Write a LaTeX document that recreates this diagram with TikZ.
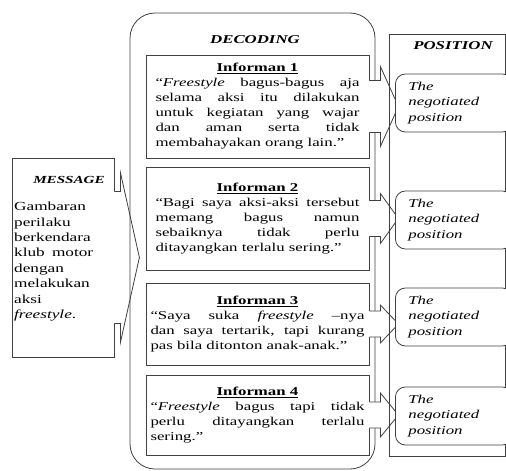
\documentclass[tikz,border=0pt]{standalone}
\usepackage{fontspec}
\setmainfont[FakeStretch=1.4]{Liberation Serif}
\usetikzlibrary{calc}
\setlength{\parindent}{0pt}
\tolerance=10000
\hbadness=10000

\newcommand{\infofont}{\fontsize{12}{15}\selectfont}
\newcommand{\msgfont}{\fontsize{12.3}{15.4}\selectfont}

% callout arrow on the east side of a box: node, shaft half, head half, shaft length, head length
\newcommand{\calloutarrow}[5]{%
	\fill[white] ($(#1.east)+(-0.6,-#2)$) -- ++(#4+0.6,0) -- ++(0,#2-#3) -- ++(#5,#3) -- ++(-#5,#3) -- ++(0,#2-#3) -- ++(-#4-0.6,0) -- cycle;
	\draw[boxline] ($(#1.east)+(0,-#2)$) -- ++(#4,0) -- ++(0,#2-#3) -- ++(#5,#3) -- ++(-#5,#3) -- ++(0,#2-#3) -- ++(-#4,0);
}

\tikzset{
	boxline/.style={draw=black!75,line width=0.8pt},
	headtext/.style={font=\bfseries\itshape\fontsize{12}{14}\selectfont},
	infobox/.style={boxline,fill=white,minimum width=223pt,inner sep=0pt,align=justify,font=\infofont},
	answer/.style={boxline,fill=white,rounded corners=10pt,anchor=west,minimum width=117pt,minimum height=58pt,text width=91pt,inner sep=0pt,align=left,font=\itshape\fontsize{12}{15.5}\selectfont}
}

\begin{document}
\begin{tikzpicture}[x=1pt,y=-1pt]

	\useasboundingbox (0,0) rectangle (506,471);
	\clip (0,0) rectangle (506,471);

	%message box with its arrow
	\node[boxline,fill=white,minimum width=102pt,minimum height=199pt,inner sep=0pt] (msg) at (63,257.5) {};
	\calloutarrow{msg}{66}{85}{6}{19}
	\node[font=\bfseries\itshape\fontsize{10.8}{12}\selectfont] (msgtitle) at (69,180) {MESSAGE};
	\node[anchor=north west,text width=79pt,inner sep=0pt,align=justify,font=\msgfont] (msgtext) at (14,202)
		{Gambaran\newline perilaku\newline berkendara\newline klub motor\linebreak dengan\newline melakukan\newline aksi\newline \textit{freestyle}.};

	%decoding frame
	\node[boxline,rounded corners=25pt,minimum width=245pt,minimum height=456pt,inner sep=0pt] (dec) at (252.5,241) {};
	\node[headtext] (dectitle) at (255,40) {DECODING};

	%the four informants
	\node[infobox,minimum height=103pt,text width=204pt] (inf1) at (257.5,106.5)
		{{\centering\underline{\textbf{Informan 1}}\par}
		“\textit{Freestyle} bagus-bagus aja\linebreak selama aksi itu dilakukan\linebreak untuk kegiatan yang wajar\linebreak dan aman serta tidak\linebreak membahayakan orang lain.”};
	\node[infobox,minimum height=103pt,text width=204pt] (inf2) at (257.5,218.5)
		{{\centering\underline{\textbf{Informan 2}}\par}
		“Bagi saya aksi-aksi tersebut\linebreak memang bagus namun\linebreak sebaiknya tidak perlu\linebreak ditayangkan terlalu sering.”};
	\node[infobox,minimum height=82pt,text width=214pt] (inf3) at (257.5,324)
		{{\centering\underline{\textbf{Informan 3}}\par}
		“Saya suka \textit{freestyle} –nya\linebreak dan saya tertarik, tapi kurang\linebreak pas bila ditonton anak-anak.”};
	\node[infobox,minimum height=80pt,text width=214pt] (inf4) at (257.5,415)
		{{\centering\underline{\textbf{Informan 4}}\par}
		“\textit{Freestyle} bagus tapi tidak\linebreak perlu ditayangkan terlalu\linebreak sering.”};

	%arrows out of the informants
	\calloutarrow{inf1}{26}{40}{11}{18}
	\calloutarrow{inf2}{18}{25}{11}{18}
	\calloutarrow{inf3}{13}{19}{11}{18}
	\calloutarrow{inf4}{13}{22}{11}{18}

	%position column
	\node[boxline,minimum width=116pt,minimum height=422pt,inner sep=0pt] (pos) at (447,245) {};
	\node[headtext] (postitle) at (453,46) {POSITION};

	\node[answer] (ans1) at (395,103) {The\\ negotiated\\ position};
	\node[answer] (ans2) at (395,220) {The\\ negotiated\\ position};
	\node[answer] (ans3) at (395,317) {The\\ negotiated\\ position};
	\node[answer] (ans4) at (395,416) {The\\ negotiated\\ position};

\end{tikzpicture}
\end{document}
